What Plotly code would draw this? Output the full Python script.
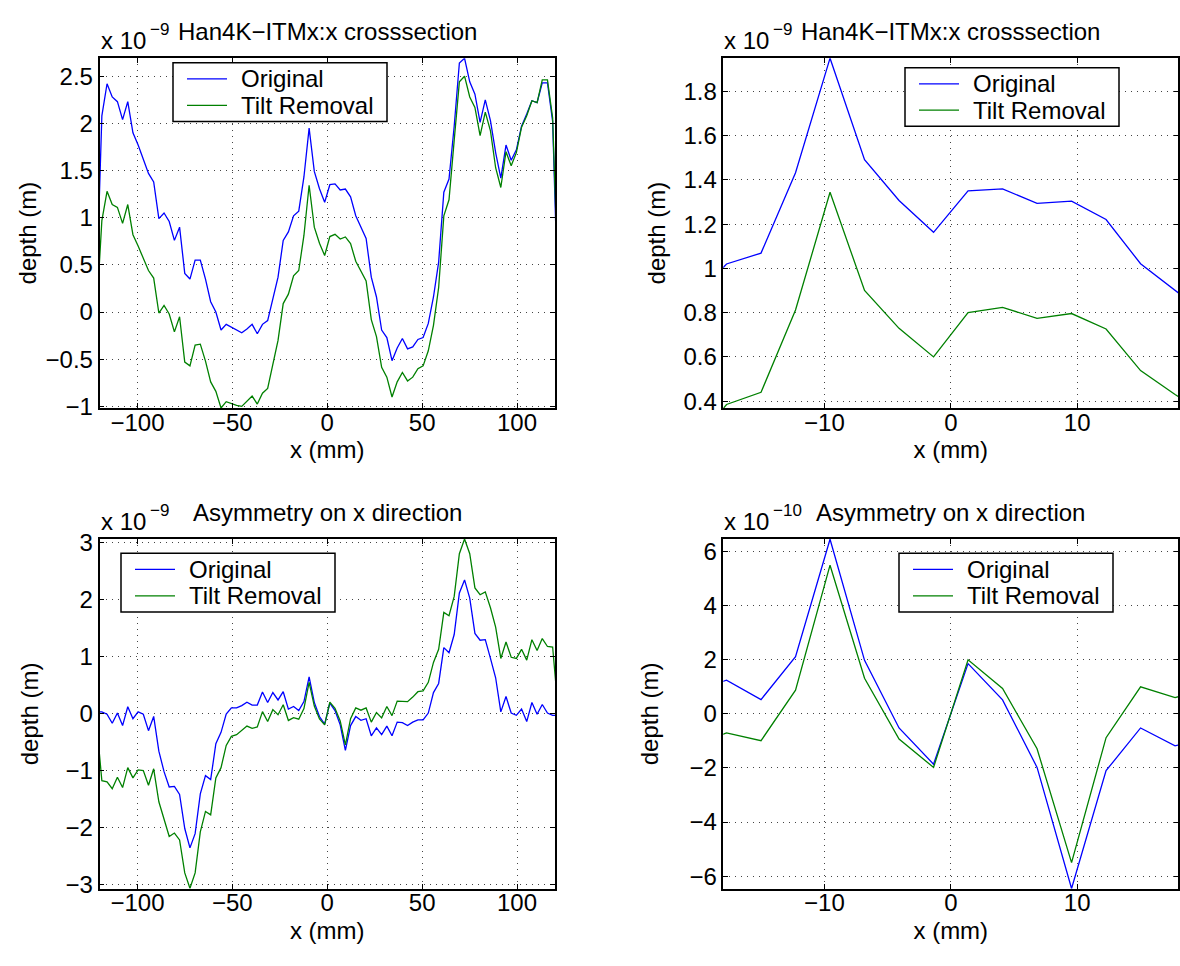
import numpy as np
import plotly.graph_objects as go

# Sample positions along x: 90 points, 2.73 mm pitch, symmetric about 0 (mm)
pitch_mm = 2.73
x_mm = (np.arange(90) - 44.5) * pitch_mm

# Cross-section depth profiles (units of 1e-9 m)
orig_nm = [
    0.30, 2.08, 2.42, 2.28, 2.23, 2.04, 2.23, 1.90, 1.77, 1.63,
    1.47, 1.38, 0.99, 1.05, 0.96, 0.76, 0.90, 0.41, 0.35, 0.55,
    0.55, 0.35, 0.11, 0.00, -0.19, -0.13, -0.16, -0.19, -0.22, -0.18,
    -0.13, -0.23, -0.13, -0.09, 0.14, 0.37, 0.76, 0.85, 1.02, 1.069,
    1.432, 1.95, 1.491, 1.307, 1.163, 1.35, 1.359, 1.294, 1.304, 1.221,
    1.021, 0.90, 0.78, 0.37, 0.16, -0.19, -0.27, -0.515, -0.38, -0.28,
    -0.39, -0.37, -0.29, -0.27, -0.12, 0.16, 0.53, 1.27, 1.41, 1.97,
    2.64, 2.69, 2.44, 2.31, 2.01, 2.25, 2.03, 1.69, 1.42, 1.77,
    1.61, 1.72, 1.97, 2.10, 2.24, 2.22, 2.43, 2.43, 2.02, 0.18,
]
tilt_nm = [
    0.02, 0.97, 1.28, 1.14, 1.11, 0.94, 1.14, 0.82, 0.70, 0.56,
    0.44, 0.36, -0.01, 0.07, -0.02, -0.21, -0.05, -0.53, -0.57, -0.35,
    -0.34, -0.52, -0.74, -0.84, -1.017, -0.95, -0.97, -0.99, -1.00, -0.95,
    -0.89, -0.975, -0.86, -0.81, -0.56, -0.30, 0.09, 0.19, 0.385, 0.44,
    0.812, 1.344, 0.90, 0.729, 0.60, 0.80, 0.824, 0.774, 0.796, 0.726,
    0.538, 0.43, 0.33, -0.08, -0.26, -0.585, -0.69, -0.90, -0.74, -0.64,
    -0.73, -0.69, -0.60, -0.57, -0.41, -0.14, 0.26, 1.02, 1.19, 1.82,
    2.44, 2.50, 2.28, 2.17, 1.87, 2.12, 1.92, 1.53, 1.32, 1.70,
    1.55, 1.69, 1.96, 2.08, 2.24, 2.22, 2.46, 2.46, 2.06, 0.40,
]

# Asymmetry along x (units of 1e-9 m)
asym_orig_nm = [
    0.03, 0.03, -0.01, -0.17, 0.01, -0.21, 0.12, -0.09, 0.03, -0.01,
    -0.30, -0.05, -0.66, -1.02, -1.29, -1.28, -1.42, -2.02, -2.36, -2.11,
    -1.41, -1.09, -1.16, -0.53, -0.33, -0.01, 0.10, 0.10, 0.14, 0.20,
    0.15, 0.15, 0.38, 0.195, 0.37, 0.24, 0.385, 0.08, 0.125, 0.053,
    0.212, 0.646, 0.198, -0.052, -0.186, 0.186, 0.052, -0.198, -0.646, -0.21,
    -0.052, -0.118, -0.09, -0.39, -0.25, -0.37, -0.22, -0.39, -0.15, -0.16,
    -0.21, -0.15, -0.11, -0.11, 0.01, 0.37, 0.53, 1.16, 1.07, 1.39,
    2.12, 2.35, 2.03, 1.41, 1.29, 1.30, 0.97, 0.63, 0.03, 0.30,
    0.01, -0.03, 0.08, -0.14, 0.195, -0.01, 0.16, 0.01, -0.03, -0.03,
]
asym_tilt_nm = [
    -0.18, -1.18, -1.20, -1.32, -1.12, -1.30, -0.95, -1.13, -0.99, -1.00,
    -1.26, -0.97, -1.55, -1.85, -2.16, -2.10, -2.22, -2.80, -3.07, -2.80,
    -2.08, -1.72, -1.78, -1.13, -0.95, -0.56, -0.40, -0.37, -0.30, -0.22,
    -0.26, -0.235, 0.035, -0.14, 0.07, -0.02, 0.155, -0.12, -0.07, -0.099,
    0.088, 0.550, 0.132, -0.093, -0.198, 0.20, 0.094, -0.129, -0.55, -0.088,
    0.10, 0.06, 0.10, -0.15, 0.02, -0.075, 0.125, -0.035, 0.22, 0.22,
    0.21, 0.29, 0.385, 0.40, 0.55, 0.90, 1.13, 1.78, 1.72, 2.06,
    2.81, 3.07, 2.81, 2.21, 2.09, 2.14, 1.86, 1.52, 0.97, 1.26,
    0.99, 0.97, 1.13, 0.94, 1.30, 1.11, 1.32, 1.18, 1.17, 0.12,
]

series_names = ["Original", "Tilt Removal"]
titles = ["Han4K\u2212ITMx:x crosssection", "Asymmetry on x direction"]

BLUE = "#0000ff"
GREEN = "#008000"
COLORS = [BLUE, GREEN]
FONT = "Liberation Sans, Arial, Helvetica, sans-serif"
FS = 24
FS_EXP = 17
W, H = 1180, 966


def px_x(v):
    return v / W


def px_y(v):
    return 1 - v / H


fig = go.Figure()

# (xaxis id, yaxis id, series pair, y scale factor)
panels = [
    ("x", "y", (orig_nm, tilt_nm), 1.0),
    ("x2", "y2", (orig_nm, tilt_nm), 1.0),
    ("x3", "y3", (asym_orig_nm, asym_tilt_nm), 1.0),
    ("x4", "y4", (asym_orig_nm, asym_tilt_nm), 10.0),
]
for xa, ya, pair, scale in panels:
    for vals, name, col in zip(pair, series_names, COLORS):
        fig.add_trace(go.Scatter(
            x=x_mm, y=np.asarray(vals) * scale, mode="lines", name=name,
            line=dict(color=col, width=1.3), xaxis=xa, yaxis=ya,
            showlegend=False, hoverinfo="x+y+name",
        ))

# axes boxes in pixels (left, right, top, bottom)
boxes = {
    1: (99.5, 555.0, 49.3, 407.3),
    2: (723.3, 1178.3, 49.3, 407.3),
    3: (99.5, 555.0, 541.3, 899.3),
    4: (723.3, 1178.3, 541.3, 899.3),
}
xranges = {1: [-120, 120], 2: [-18, 18], 3: [-120, 120], 4: [-18, 18]}
xdticks = {1: 50, 2: 10, 3: 50, 4: 10}
yranges = {1: [-1.017, 2.691], 2: [0.369, 1.95], 3: [-3.08, 3.07], 4: [-6.47, 6.47]}
ydticks = {1: 0.5, 2: 0.2, 3: 1, 4: 2}
ytitle_standoff = {1: 2, 2: 11, 3: 20, 4: 24}

txt_font = dict(family=FONT, size=FS, color="black")
exp_font = dict(family=FONT, size=FS_EXP, color="black")
axis_common = dict(
    showline=True, linecolor="black", linewidth=1.5, mirror="ticks",
    ticks="inside", ticklen=5, tickwidth=1, tickcolor="black",
    showgrid=True, gridcolor="#444444", gridwidth=1, griddash="1px,5px",
    zeroline=False, tickfont=txt_font, tickmode="linear", tick0=0,
)

layout_axes = {}
for i, (l, r, t, b) in boxes.items():
    sfx = "" if i == 1 else str(i)
    layout_axes["xaxis" + sfx] = dict(
        axis_common, domain=[px_x(l), px_x(r)], range=xranges[i], dtick=xdticks[i],
        anchor="y" + sfx, ticklabelstandoff=-8,
        title=dict(text="x (mm)", font=txt_font, standoff=7),
    )
    layout_axes["yaxis" + sfx] = dict(
        axis_common, domain=[px_y(b), px_y(t)], range=yranges[i], dtick=ydticks[i],
        anchor="x" + sfx,
        title=dict(text="depth (m)", font=txt_font, standoff=ytitle_standoff[i]),
    )

annotations = []
shapes = []
exponents = {1: "\u22129", 2: "\u22129", 3: "\u22129", 4: "\u221210"}
for i, (l, r, t, b) in boxes.items():
    cx = (l + r) / 2
    annotations.append(dict(
        text=titles[0] if i <= 2 else titles[1], x=px_x(cx), y=px_y(t - 27),
        xref="paper", yref="paper", xanchor="center", yanchor="middle",
        showarrow=False, font=txt_font,
    ))
    # axis multiplier "x 10" with its exponent raised beside it
    annotations.append(dict(
        text="x 10", x=px_x(l - 1), y=px_y(t - 18),
        xref="paper", yref="paper", xanchor="left", yanchor="middle",
        showarrow=False, font=txt_font,
    ))
    annotations.append(dict(
        text=exponents[i], x=px_x(l + 48), y=px_y(t - 29),
        xref="paper", yref="paper", xanchor="left", yanchor="middle",
        showarrow=False, font=exp_font,
    ))

# legend boxes: top-left corner in pixels
legend_corners = {1: (173, 54), 2: (905, 59), 3: (121, 556), 4: (899, 556)}
LEG_W, LEG_H = 214, 60
for i, (lx, ly) in legend_corners.items():
    shapes.append(dict(
        type="rect", xref="paper", yref="paper", layer="above",
        x0=px_x(lx), x1=px_x(lx + LEG_W), y0=px_y(ly + LEG_H), y1=px_y(ly),
        line=dict(color="black", width=1.5), fillcolor="white",
    ))
    for row, (name, col) in enumerate(zip(series_names, COLORS)):
        ry = ly + 16.5 + 27 * row
        shapes.append(dict(
            type="line", xref="paper", yref="paper", layer="above",
            x0=px_x(lx + 14), x1=px_x(lx + 54), y0=px_y(ry), y1=px_y(ry),
            line=dict(color=col, width=1.3),
        ))
        annotations.append(dict(
            text=name, x=px_x(lx + 66), y=px_y(ry),
            xref="paper", yref="paper", xanchor="left", yanchor="middle",
            showarrow=False, font=txt_font,
        ))

fig.update_layout(
    width=W, height=H, margin=dict(l=0, r=0, t=0, b=0),
    paper_bgcolor="white", plot_bgcolor="white", showlegend=False,
    annotations=annotations, shapes=shapes, **layout_axes,
)

fig.write_html("out.html")
